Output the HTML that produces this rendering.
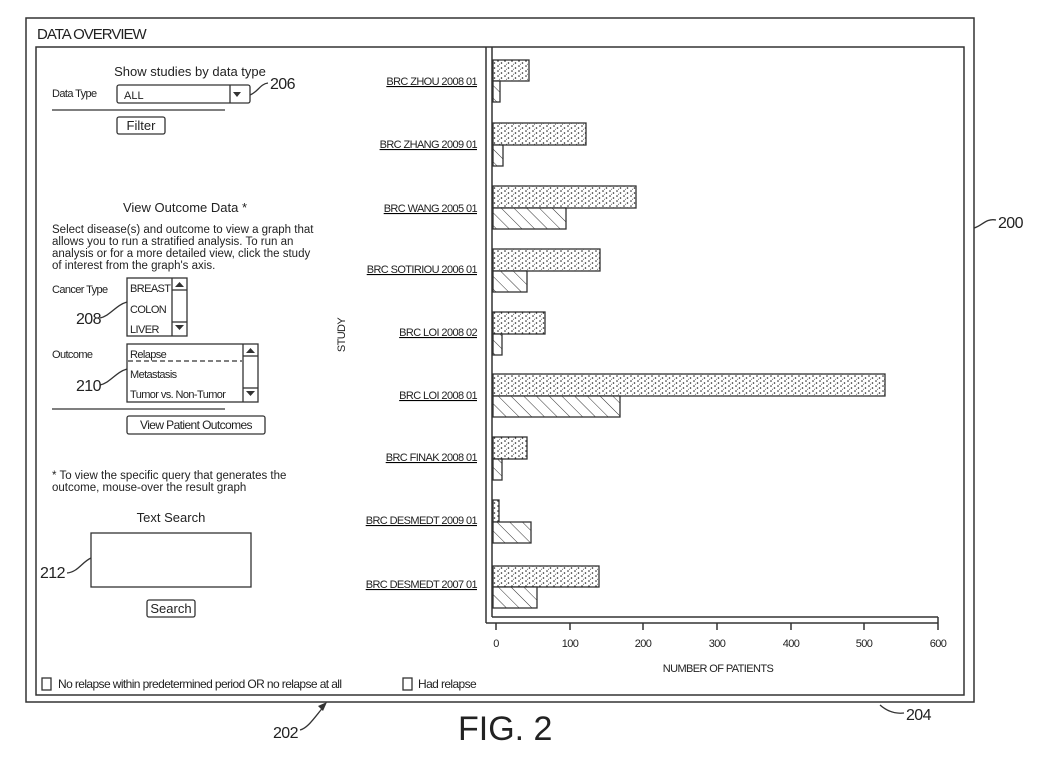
<!DOCTYPE html>
<html><head><meta charset="utf-8"><style>
body{margin:0;background:#fff}
svg text{font-family:"Liberation Sans",sans-serif;fill:#222}
.c{letter-spacing:-0.6px}
</style></head><body>
<svg width="1048" height="752" viewBox="0 0 1048 752" xmlns="http://www.w3.org/2000/svg">
<defs>
<pattern id="dots" width="7" height="5" patternUnits="userSpaceOnUse">
<rect width="7" height="5" fill="#fff"/>
<circle cx="1" cy="1" r="0.8" fill="#222"/><circle cx="4.5" cy="3" r="0.8" fill="#222"/><circle cx="2.5" cy="4.3" r="0.5" fill="#444"/>
</pattern>
<pattern id="hatch" width="9" height="9" patternUnits="userSpaceOnUse" patternTransform="rotate(-45)">
<rect width="9" height="9" fill="#fff"/><line x1="0" y1="0" x2="0" y2="9" stroke="#333" stroke-width="1"/>
</pattern>
</defs>
<g fill="none" stroke="#333" stroke-width="1.5">
<rect x="26" y="18" width="948" height="684"/>
<rect x="36" y="47" width="928" height="648"/>
<line x1="486" y1="47" x2="486" y2="623"/>
<line x1="492" y1="47" x2="492" y2="617"/>
<line x1="486" y1="623" x2="938" y2="623"/>
<line x1="492" y1="617" x2="938" y2="617"/>
<line x1="938" y1="617" x2="938" y2="630"/>
</g>
<g stroke="#333" stroke-width="1.5">
<line x1="496" y1="623" x2="496" y2="630"/><line x1="570" y1="623" x2="570" y2="630"/><line x1="643" y1="623" x2="643" y2="630"/><line x1="717" y1="623" x2="717" y2="630"/><line x1="791" y1="623" x2="791" y2="630"/><line x1="864" y1="623" x2="864" y2="630"/>
</g>
<g font-size="11" text-anchor="middle" class="c">
<text x="496" y="647">0</text><text x="570" y="647">100</text><text x="643" y="647">200</text><text x="717" y="647">300</text><text x="791" y="647">400</text><text x="864" y="647">500</text><text x="938" y="647">600</text>
<text x="718" y="672">NUMBER OF PATIENTS</text>
</g>
<g stroke="#333" stroke-width="1.3">
<rect x="493" y="60" width="36" height="21" fill="url(#dots)"/><rect x="493" y="81" width="7" height="21" fill="url(#hatch)"/>
<rect x="493" y="123" width="93" height="22" fill="url(#dots)"/><rect x="493" y="145" width="10" height="21" fill="url(#hatch)"/>
<rect x="493" y="186" width="143" height="22" fill="url(#dots)"/><rect x="493" y="208" width="73" height="21" fill="url(#hatch)"/>
<rect x="493" y="249" width="107" height="22" fill="url(#dots)"/><rect x="493" y="271" width="34" height="21" fill="url(#hatch)"/>
<rect x="493" y="312" width="52" height="22" fill="url(#dots)"/><rect x="493" y="334" width="9" height="21" fill="url(#hatch)"/>
<rect x="493" y="374" width="392" height="22" fill="url(#dots)"/><rect x="493" y="396" width="127" height="21" fill="url(#hatch)"/>
<rect x="493" y="437" width="34" height="22" fill="url(#dots)"/><rect x="493" y="459" width="9" height="21" fill="url(#hatch)"/>
<rect x="493" y="500" width="6" height="22" fill="url(#dots)"/><rect x="493" y="522" width="38" height="21" fill="url(#hatch)"/>
<rect x="493" y="566" width="106" height="21" fill="url(#dots)"/><rect x="493" y="587" width="44" height="21" fill="url(#hatch)"/>
</g>
<g font-size="11" text-anchor="end" text-decoration="underline" class="c">
<text x="477" y="85">BRC ZHOU 2008 01</text>
<text x="477" y="148">BRC ZHANG 2009 01</text>
<text x="477" y="212">BRC WANG 2005 01</text>
<text x="477" y="273">BRC SOTIRIOU 2006 01</text>
<text x="477" y="336">BRC LOI 2008 02</text>
<text x="477" y="399">BRC LOI 2008 01</text>
<text x="477" y="461">BRC FINAK 2008 01</text>
<text x="477" y="524">BRC DESMEDT 2009 01</text>
<text x="477" y="588">BRC DESMEDT 2007 01</text>
</g>
<text x="345" y="335" font-size="11" transform="rotate(-90 345 335)" text-anchor="middle" class="c">STUDY</text>
<text x="37" y="39" font-size="15" style="letter-spacing:-1px">DATA OVERVIEW</text>
<text x="190" y="76" font-size="13" text-anchor="middle">Show studies by data type</text>
<text x="52" y="97" font-size="11" class="c">Data Type</text>
<g fill="none" stroke="#333" stroke-width="1.3">
<rect x="117" y="85" width="133" height="18" rx="2"/><line x1="230" y1="85" x2="230" y2="103"/>
<line x1="52" y1="110" x2="225" y2="110"/>
<rect x="117" y="117" width="48" height="17" rx="2"/>
<path d="M250 95 C258 92 260 84 268 83"/>
<rect x="127" y="278" width="60" height="58"/><line x1="172" y1="278" x2="172" y2="336"/>
<line x1="172" y1="290" x2="187" y2="290"/><line x1="172" y1="322" x2="187" y2="322"/>
<rect x="127" y="344" width="131" height="58"/><line x1="243" y1="344" x2="243" y2="402"/>
<line x1="243" y1="356" x2="258" y2="356"/><line x1="243" y1="388" x2="258" y2="388"/>
<line x1="128" y1="361" x2="242" y2="361" stroke-dasharray="5 3"/>
<line x1="52" y1="409" x2="225" y2="409"/>
<rect x="127" y="416" width="138" height="18" rx="2"/>
<rect x="91" y="533" width="160" height="54"/>
<rect x="147" y="600" width="48" height="17" rx="2"/>
<path d="M100 318 C110 316 116 305 127 302"/>
<path d="M100 385 C110 383 116 372 127 369"/>
<path d="M67 573 C78 572 82 562 91 558"/>
<path d="M974 228 C982 226 986 218 996 220"/>
<path d="M880 705 C888 712 896 714 904 713"/>
<path d="M300 730 C308 728 314 718 325 705"/>
<rect x="42" y="678" width="9" height="12"/><rect x="403" y="678" width="9" height="12"/>
</g>
<path d="M233 92 L241 92 L237 97Z" fill="#333"/>
<path d="M175 287 L184 287 L179.5 282Z M175 325 L184 325 L179.5 330Z M246 353 L255 353 L250.5 348Z M246 391 L255 391 L250.5 396Z" fill="#333"/>
<path d="M327 702 L318 706 L323 711Z" fill="#333"/>
<text x="124" y="99" font-size="11">ALL</text>
<text x="141" y="130" font-size="13" text-anchor="middle">Filter</text>
<text x="270" y="89" font-size="16" class="c">206</text>
<text x="185" y="212" font-size="13" text-anchor="middle">View Outcome Data *</text>
<g font-size="11.5">
<text x="52" y="233">Select disease(s) and outcome to view a graph that</text>
<text x="52" y="245">allows you to run a stratified analysis. To run an</text>
<text x="52" y="257">analysis or for a more detailed view, click the study</text>
<text x="52" y="269">of interest from the graph's axis.</text>
<text x="52" y="479">* To view the specific query that generates the</text>
<text x="52" y="491">outcome, mouse-over the result graph</text>
</g>
<g font-size="11" class="c">
<text x="52" y="293">Cancer Type</text>
<text x="130" y="292">BREAST</text><text x="130" y="313">COLON</text><text x="130" y="333">LIVER</text>
<text x="52" y="358">Outcome</text>
<text x="130" y="358">Relapse</text><text x="130" y="378">Metastasis</text><text x="130" y="398">Tumor vs. Non-Tumor</text>
</g>
<text x="76" y="324" font-size="16" class="c">208</text>
<text x="76" y="391" font-size="16" class="c">210</text>
<text x="196" y="429" font-size="12" text-anchor="middle" class="c">View Patient Outcomes</text>
<text x="171" y="522" font-size="13" text-anchor="middle">Text Search</text>
<text x="40" y="578" font-size="16" class="c">212</text>
<text x="171" y="613" font-size="13" text-anchor="middle">Search</text>
<text x="58" y="688" font-size="12" class="c">No relapse within predetermined period OR no relapse at all</text>
<text x="418" y="688" font-size="12" class="c">Had relapse</text>
<text x="998" y="228" font-size="16" class="c">200</text>
<text x="906" y="720" font-size="16" class="c">204</text>
<text x="273" y="738" font-size="16" class="c">202</text>
<text x="458" y="740" font-size="34">FIG. 2</text>
</svg>
</body></html>
